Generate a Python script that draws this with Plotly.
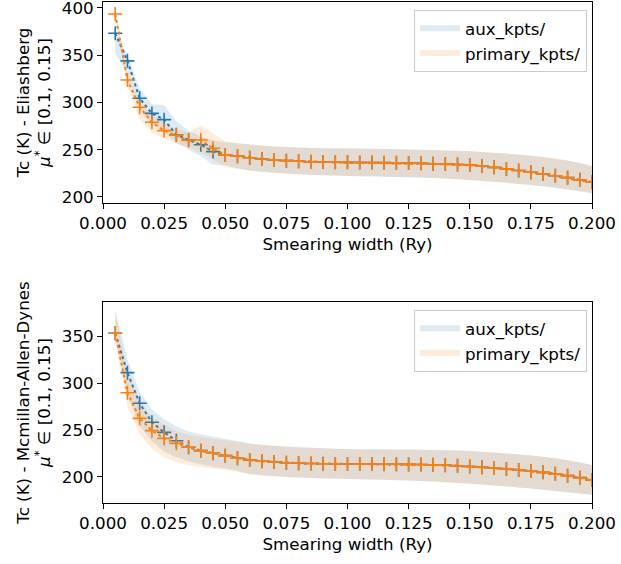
import plotly.graph_objects as go

# Smearing widths (Ry)
smearing = [round(0.005 * i, 3) for i in range(1, 41)]

# ---- Eliashberg Tc (K) ----
eli_aux = [373.2, 344.0, 304.4, 288.4, 281.8, 265.8, 260.3, 255.3, 248.0, 244.5,
           243.2, 241.5, 240.2, 239.2, 238.4, 237.8, 237.3, 237.0, 236.8, 236.6,
           236.5, 236.4, 236.3, 236.1, 235.9, 235.6, 235.2, 234.8, 234.3, 233.9,
           232.7, 231.3, 229.7, 228.0, 226.1, 224.3, 222.4, 220.4, 218.1, 215.6]
eli_aux_hi = [376.0, 350.0, 315.0, 298.0, 297.4, 280.0, 270.0, 264.0, 260.0, 258.0,
              256.8, 255.5, 254.4, 253.5, 252.8, 252.3, 251.9, 251.6, 251.4, 251.3,
              251.2, 251.0, 250.8, 250.6, 250.3, 250.0, 249.6, 249.2, 248.8, 248.3,
              247.6, 246.8, 245.9, 244.8, 243.6, 242.2, 240.5, 238.6, 236.0, 232.5]
eli_aux_lo = [352.0, 330.0, 292.0, 278.0, 268.0, 258.0, 250.0, 243.0, 234.0, 233.5,
              230.0, 228.0, 226.6, 225.5, 224.7, 224.0, 223.5, 223.0, 222.6, 222.3,
              222.0, 221.8, 221.5, 221.2, 220.9, 220.5, 220.0, 219.5, 218.8, 218.0,
              217.0, 216.0, 214.9, 213.8, 212.7, 211.3, 209.7, 208.0, 206.0, 204.0]

eli_pri = [393.6, 323.8, 294.9, 279.0, 270.2, 265.4, 259.8, 260.3, 251.5, 244.5,
           243.2, 241.5, 240.2, 239.2, 238.4, 237.8, 237.3, 237.0, 236.8, 236.6,
           236.5, 236.4, 236.3, 236.1, 235.9, 235.6, 235.2, 234.8, 234.3, 233.9,
           232.7, 231.3, 229.7, 228.0, 226.1, 224.3, 222.4, 220.4, 218.1, 215.6]
eli_pri_hi = [397.0, 330.0, 300.0, 287.0, 278.0, 272.0, 268.0, 276.0, 267.5, 259.0,
              256.8, 255.5, 254.4, 253.5, 252.8, 252.3, 251.9, 251.6, 251.4, 251.3,
              251.2, 251.0, 250.8, 250.6, 250.3, 250.0, 249.6, 249.2, 248.8, 248.3,
              247.6, 246.8, 245.9, 244.8, 243.6, 242.2, 240.5, 238.6, 236.0, 232.5]
eli_pri_lo = [388.0, 317.0, 282.0, 268.0, 262.0, 256.0, 252.5, 247.0, 240.0, 231.5,
              230.0, 228.0, 226.6, 225.5, 224.7, 224.0, 223.5, 223.0, 222.6, 222.3,
              222.0, 221.8, 221.5, 221.2, 220.9, 220.5, 220.0, 219.5, 218.8, 218.0,
              217.0, 216.0, 214.9, 213.8, 212.7, 211.3, 209.7, 208.0, 206.0, 204.0]

# ---- McMillan-Allen-Dynes Tc (K) ----
mad_aux = [352.9, 311.0, 278.4, 258.2, 247.5, 238.6, 231.7, 228.0, 225.2, 222.7,
           219.9, 218.0, 216.8, 215.9, 215.2, 214.7, 214.3, 214.0, 213.9, 213.8,
           213.7, 213.7, 213.6, 213.5, 213.4, 213.2, 212.9, 212.5, 211.9, 211.2,
           210.4, 209.5, 208.5, 207.4, 206.3, 204.9, 203.3, 201.4, 199.3, 196.9]
mad_aux_hi = [378.0, 325.0, 291.0, 272.0, 261.5, 254.0, 248.5, 245.5, 243.0, 240.5,
              238.3, 235.5, 234.2, 233.2, 232.3, 231.6, 231.0, 230.5, 230.1, 229.8,
              229.6, 229.5, 229.4, 229.3, 229.2, 229.0, 228.8, 228.5, 228.1, 227.6,
              226.9, 226.1, 225.1, 224.0, 222.8, 221.4, 219.8, 217.8, 215.5, 212.8]
mad_aux_lo = [350.0, 287.0, 254.0, 238.0, 227.0, 221.0, 216.5, 213.5, 211.0, 209.0,
              206.5, 203.0, 201.8, 200.8, 200.0, 199.4, 198.9, 198.5, 198.2, 197.9,
              197.6, 197.3, 197.0, 196.6, 196.2, 195.7, 195.1, 194.4, 193.7, 192.9,
              192.0, 191.0, 189.9, 188.8, 187.6, 186.4, 185.1, 183.8, 182.5, 181.1]

mad_pri = [352.9, 289.7, 262.4, 249.3, 241.1, 235.8, 231.7, 228.0, 225.2, 222.7,
           219.9, 218.0, 216.8, 215.9, 215.2, 214.7, 214.3, 214.0, 213.9, 213.8,
           213.7, 213.7, 213.6, 213.5, 213.4, 213.2, 212.9, 212.5, 211.9, 211.2,
           210.4, 209.5, 208.5, 207.4, 206.3, 204.9, 203.3, 201.4, 199.3, 196.9]
mad_pri_hi = [374.0, 313.0, 281.0, 264.0, 255.5, 249.0, 244.5, 242.5, 240.8, 239.0,
              237.3, 235.5, 234.2, 233.2, 232.3, 231.6, 231.0, 230.5, 230.1, 229.8,
              229.6, 229.5, 229.4, 229.3, 229.2, 229.0, 228.8, 228.5, 228.1, 227.6,
              226.9, 226.1, 225.1, 224.0, 222.8, 221.4, 219.8, 217.8, 215.5, 212.8]
mad_pri_lo = [345.0, 275.0, 245.0, 230.0, 221.0, 216.0, 212.5, 210.5, 208.8, 207.5,
              205.5, 203.0, 201.8, 200.8, 200.0, 199.4, 198.9, 198.5, 198.2, 197.9,
              197.6, 197.3, 197.0, 196.6, 196.2, 195.7, 195.1, 194.4, 193.7, 192.9,
              192.0, 191.0, 189.9, 188.8, 187.6, 186.4, 185.1, 183.8, 182.5, 181.1]

series_names = ["aux_kpts/", "primary_kpts/"]
line_colors = ["#1f77b4", "#ff7f0e"]
fill_colors = ["rgba(31,119,180,0.15)", "rgba(255,127,14,0.15)"]

x_ticks = [0.0, 0.025, 0.05, 0.075, 0.1, 0.125, 0.15, 0.175, 0.2]
x_tick_text = ["0.000", "0.025", "0.050", "0.075", "0.100", "0.125", "0.150", "0.175", "0.200"]

FONT = "DejaVu Sans"
FS = 16.7

panels = [
    dict(xa="x", ya="y", legend="legend",
         data=[(eli_aux, eli_aux_lo, eli_aux_hi), (eli_pri, eli_pri_lo, eli_pri_hi)]),
    dict(xa="x2", ya="y2", legend="legend2",
         data=[(mad_aux, mad_aux_lo, mad_aux_hi), (mad_pri, mad_pri_lo, mad_pri_hi)]),
]

fig = go.Figure()
for p in panels:
    for k, (mid, lo, hi) in enumerate(p["data"]):
        fig.add_trace(go.Scatter(
            x=smearing, y=mid, mode="lines+markers",
            line=dict(color=line_colors[k], width=2, dash="dot"),
            marker=dict(symbol="cross-thin", size=10,
                        line=dict(color=line_colors[k], width=1.6)),
            xaxis=p["xa"], yaxis=p["ya"], showlegend=False, hoverinfo="skip"))
        fig.add_trace(go.Scatter(
            x=smearing + smearing[::-1], y=hi + lo[::-1],
            mode="none", fill="toself", fillcolor=fill_colors[k],
            name=series_names[k], legend=p["legend"],
            xaxis=p["xa"], yaxis=p["ya"], hoverinfo="skip"))

axis_common = dict(
    showline=True, linecolor="black", linewidth=1, mirror=True,
    ticks="outside", ticklen=5, tickwidth=1, tickcolor="black",
    showgrid=False, zeroline=False, automargin=False,
    ticklabeloverflow="allow",
    tickfont=dict(family=FONT, size=FS, color="black"),
)

# plot area: x 103..592 px, y 2..503 px
ML, MR, MT, MB = 103, 29, 2, 61
PH = 564 - MT - MB
top_dom = [(503 - 203) / PH, 1.0]
bot_dom = [0.0, (503 - 302) / PH]

x_title = dict(text="Smearing width (Ry)", standoff=6, font=dict(family=FONT, size=FS))

fig.update_layout(
    width=621, height=564,
    margin=dict(l=ML, r=MR, t=MT, b=MB),
    paper_bgcolor="white", plot_bgcolor="white",
    font=dict(family=FONT, size=FS, color="black"),
    xaxis=dict(domain=[0, 1], range=[0, 0.2], tickvals=x_ticks, ticktext=x_tick_text,
               anchor="y", title=x_title, **axis_common),
    yaxis=dict(domain=top_dom, range=[193.6, 406.3],
               tickvals=[200, 250, 300, 350, 400], anchor="x",
               title=dict(text="Tc (K) - Eliashberg<br><i>μ</i><sup>*</sup> ∈ [0.1, 0.15]",
                          standoff=6, font=dict(family=FONT, size=FS)), **axis_common),
    xaxis2=dict(domain=[0, 1], range=[0, 0.2], tickvals=x_ticks, ticktext=x_tick_text,
                anchor="y2", title=x_title, **axis_common),
    yaxis2=dict(domain=bot_dom, range=[172.3, 386.2],
                tickvals=[200, 250, 300, 350], anchor="x2",
                title=dict(text="Tc (K) - Mcmillan-Allen-Dynes<br><i>μ</i><sup>*</sup> ∈ [0.1, 0.15]",
                           standoff=6, font=dict(family=FONT, size=FS)), **axis_common),
    legend=dict(x=(587 - ML) / (621 - ML - MR), xanchor="right",
                y=1 - (10 - MT) / PH, yanchor="top",
                bgcolor="rgba(255,255,255,0.8)", bordercolor="#cccccc", borderwidth=1,
                font=dict(family=FONT, size=FS), tracegroupgap=0, itemwidth=40),
    legend2=dict(x=(587 - ML) / (621 - ML - MR), xanchor="right",
                 y=1 - (310 - MT) / PH, yanchor="top",
                 bgcolor="rgba(255,255,255,0.8)", bordercolor="#cccccc", borderwidth=1,
                 font=dict(family=FONT, size=FS), tracegroupgap=0, itemwidth=40),
)

fig.write_html("out.html")
